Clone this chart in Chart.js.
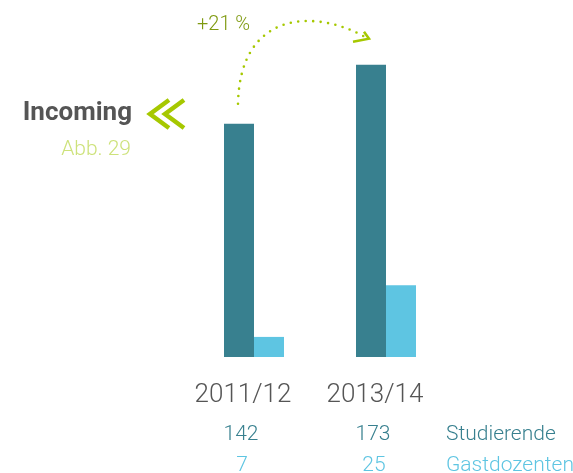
<!DOCTYPE html>
<html>
<head>
<meta charset="utf-8">
<script src="https://cdn.jsdelivr.net/npm/chart.js@4"></script>
<style>
  html, body { margin: 0; padding: 0; background: #fff; }
  #wrap { width: 573px; height: 473px; position: relative; }
</style>
</head>
<body>
<div id="wrap"><canvas id="barChart"></canvas></div>
<script>
const years = ['2011/12', '2013/14'];
const studierende = [142, 173];
const gastdozenten = [7, 25];
const seriesNames = ['Studierende', 'Gastdozenten'];
const growthLabel = '+21 %';

const DARK = '#38808f';
const LIGHT = '#5ec5e2';
const GREEN = '#a6c800';

// labels, table rows, title and the dotted growth arrow
const annotations = {
    id: 'annotations',
    afterDraw(chart) {
        const ctx = chart.ctx;
        const x = chart.scales.x;
        const font = (w, s) => w + ' ' + s + 'px Roboto, "DejaVu Sans", sans-serif';

        ctx.save();
        ctx.textAlign = 'center';
        ctx.textBaseline = 'alphabetic';
        years.forEach((yr, i) => {
            const cx = x.getPixelForValue(i);
            ctx.font = font(300, 26);
            ctx.fillStyle = '#555';
            ctx.fillText(yr, cx - 11, 402);
            ctx.font = font(300, 21);
            ctx.fillStyle = DARK;
            ctx.fillText(String(studierende[i]), cx - 13, 440);
            ctx.fillStyle = LIGHT;
            ctx.fillText(String(gastdozenten[i]), cx - 12, 471);
        });
        ctx.textAlign = 'left';
        ctx.font = font(300, 21);
        ctx.fillStyle = DARK;
        ctx.fillText(seriesNames[0], 446, 440);
        ctx.fillStyle = LIGHT;
        ctx.fillText(seriesNames[1], 446, 471);

        // title
        ctx.textAlign = 'right';
        ctx.font = font('bold', 26);
        ctx.fillStyle = '#555';
        ctx.fillText('Incoming', 132, 120);
        ctx.font = font(300, 21);
        ctx.fillStyle = '#cde27a';
        ctx.fillText('Abb. 29', 131, 155);

        // double chevron
        ctx.strokeStyle = GREEN;
        ctx.lineWidth = 4.5;
        ctx.lineCap = 'butt';
        ctx.lineJoin = 'miter';
        [150, 165].forEach(tx => {
            ctx.beginPath();
            ctx.moveTo(tx + 19, 100);
            ctx.lineTo(tx, 114);
            ctx.lineTo(tx + 19, 128);
            ctx.stroke();
        });

        // growth arrow between the Studierende bars
        const m0 = chart.getDatasetMeta(0).data;
        const sx = m0[0].x - 1, sy = m0[0].y - 20;
        const ex = m0[1].x - 3, ey = m0[1].y - 26;
        ctx.strokeStyle = GREEN;
        ctx.lineWidth = 2.6;
        ctx.lineCap = 'round';
        ctx.setLineDash([0, 7.5]);
        ctx.beginPath();
        ctx.moveTo(sx, sy);
        ctx.bezierCurveTo(sx + 2, sy - 95, ex - 50, ey - 30, ex, ey);
        ctx.stroke();
        ctx.setLineDash([]);
        ctx.lineWidth = 2.5;
        ctx.lineCap = 'butt';
        ctx.beginPath();
        ctx.moveTo(ex - 15, ey + 3);
        ctx.lineTo(ex + 1, ey);
        ctx.lineTo(ex - 4, ey - 7);
        ctx.stroke();

        ctx.textAlign = 'left';
        ctx.font = font(300, 20);
        ctx.fillStyle = '#7f9a10';
        ctx.fillText(growthLabel, 197, 30);
        ctx.restore();
    }
};

new Chart(document.getElementById('barChart'), {
    type: 'bar',
    data: {
        labels: years,
        datasets: [
            { label: seriesNames[0], data: studierende, backgroundColor: DARK, yAxisID: 'y' },
            { label: seriesNames[1], data: gastdozenten, backgroundColor: LIGHT, yAxisID: 'y2' },
        ],
    },
    options: {
        responsive: true,
        maintainAspectRatio: false,
        animation: false,
        layout: { padding: { left: 188, right: 121, top: 20, bottom: 116 } },
        datasets: { bar: { barPercentage: 1, categoryPercentage: 0.4545 } },
        scales: {
            x: { display: false },
            y: { display: false, min: 19.4, max: 196.5 },
            y2: { display: false, min: 0, max: 117.4 },
        },
        plugins: { legend: { display: false }, tooltip: { enabled: false } },
    },
    plugins: [annotations],
});
</script>
</body>
</html>
